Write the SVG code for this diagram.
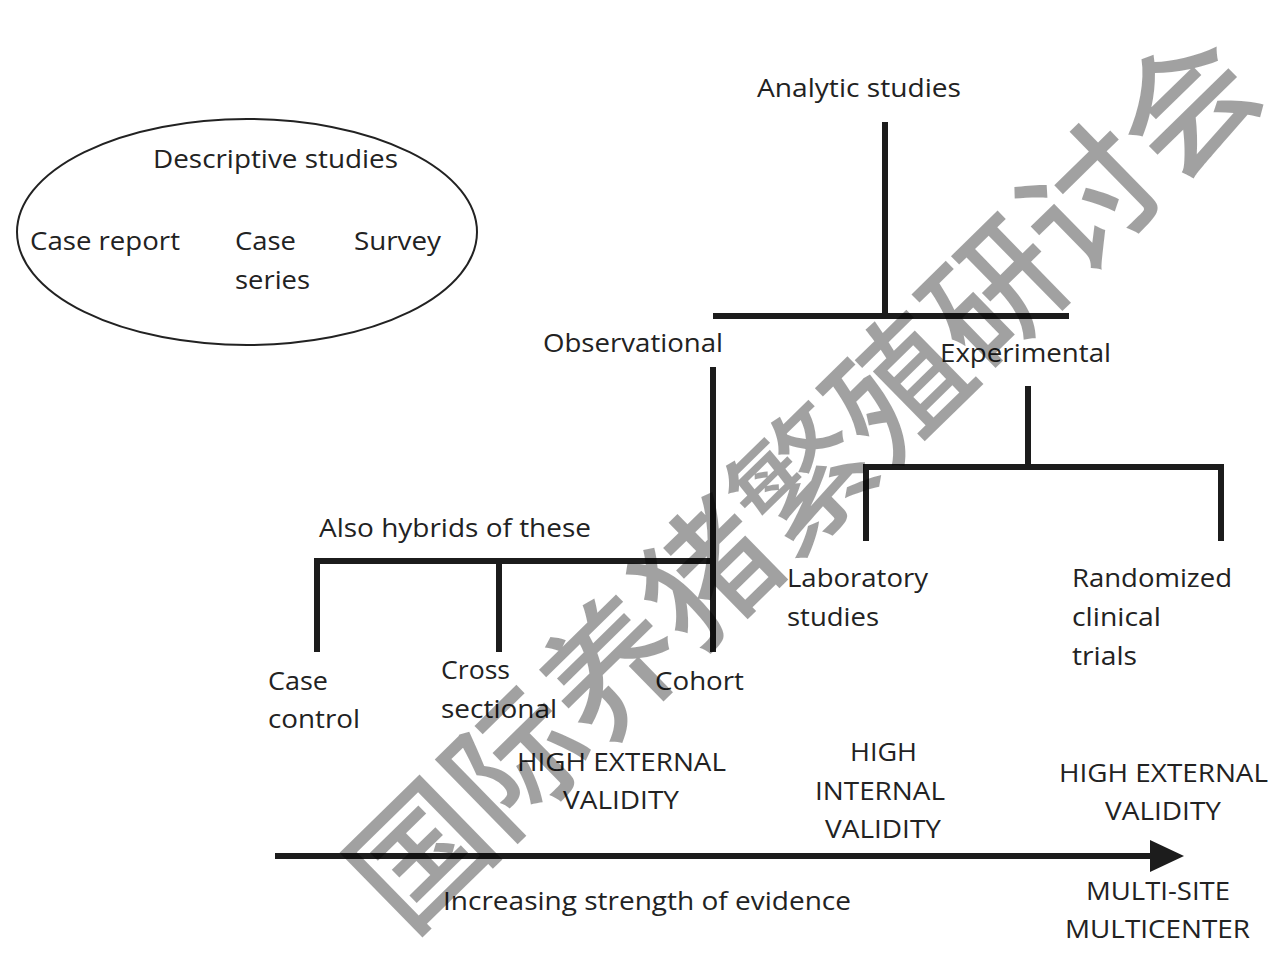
<svg xmlns="http://www.w3.org/2000/svg" width="1273" height="955" viewBox="0 0 1273 955">
<style>
  .t { font-family: "Open Sans", "Noto Sans", "Liberation Sans", sans-serif; font-size: 26px; fill: #222; }
  .ln { stroke: #1c1c1c; stroke-width: 6; fill: none; stroke-linecap: butt; }
  .wm { font-family: "Noto Sans CJK SC", "Noto Sans", sans-serif; font-size: 134px; font-weight: 500; fill: #000; fill-opacity: 0.37; }
</style>
<defs>
  <marker id="ah" markerUnits="userSpaceOnUse" markerWidth="36" markerHeight="34" refX="0" refY="17" orient="auto">
    <path d="M0,1 L34,17 L0,33 Z" fill="#1c1c1c"/>
  </marker>
</defs>
<rect width="1273" height="955" fill="#fff"/>

<g id="descriptive">
  <ellipse cx="247" cy="232" rx="230" ry="113" fill="none" stroke="#222" stroke-width="2"/>
  <text class="t" x="153" y="168" textLength="245" lengthAdjust="spacingAndGlyphs">Descriptive studies</text>
  <text class="t" x="30" y="250" textLength="150" lengthAdjust="spacingAndGlyphs">Case report</text>
  <text class="t" x="235" y="250" textLength="61" lengthAdjust="spacingAndGlyphs">Case</text>
  <text class="t" x="235" y="289" textLength="75" lengthAdjust="spacingAndGlyphs">series</text>
  <text class="t" x="354" y="250" textLength="87" lengthAdjust="spacingAndGlyphs">Survey</text>
</g>

<g id="connectors">
  <line class="ln" x1="885" y1="122" x2="885" y2="316" stroke-width="5"/>
  <line class="ln" x1="713" y1="316" x2="1069" y2="316"/>
  <line class="ln" x1="713" y1="367" x2="713" y2="652"/>
  <line class="ln" x1="314" y1="561" x2="713" y2="561"/>
  <line class="ln" x1="317" y1="558" x2="317" y2="652"/>
  <line class="ln" x1="499" y1="561" x2="499" y2="652"/>
  <line class="ln" x1="1028" y1="386" x2="1028" y2="466" stroke-width="5"/>
  <line class="ln" x1="863" y1="467" x2="1224" y2="467"/>
  <line class="ln" x1="866" y1="464" x2="866" y2="541"/>
  <line class="ln" x1="1221" y1="464" x2="1221" y2="541"/>
  <line class="ln" x1="275" y1="856" x2="1150" y2="856" stroke-width="11" marker-end="url(#ah)"/>
</g>

<g id="analytic"><text class="t" x="757" y="97" textLength="204" lengthAdjust="spacingAndGlyphs">Analytic studies</text></g>
<g id="observational"><text class="t" x="543" y="352" textLength="180" lengthAdjust="spacingAndGlyphs">Observational</text></g>
<g id="experimental"><text class="t" x="940" y="362" textLength="171" lengthAdjust="spacingAndGlyphs">Experimental</text></g>
<g id="hybrids"><text class="t" x="319" y="537" textLength="272" lengthAdjust="spacingAndGlyphs">Also hybrids of these</text></g>
<g id="case-control">
  <text class="t" x="268" y="690" textLength="60" lengthAdjust="spacingAndGlyphs">Case</text>
  <text class="t" x="268" y="728" textLength="92" lengthAdjust="spacingAndGlyphs">control</text>
</g>
<g id="cross-sectional">
  <text class="t" x="441" y="679" textLength="69" lengthAdjust="spacingAndGlyphs">Cross</text>
  <text class="t" x="441" y="718" textLength="116" lengthAdjust="spacingAndGlyphs">sectional</text>
</g>
<g id="cohort"><text class="t" x="655" y="690" textLength="89" lengthAdjust="spacingAndGlyphs">Cohort</text></g>
<g id="laboratory">
  <text class="t" x="787" y="587" textLength="141" lengthAdjust="spacingAndGlyphs">Laboratory</text>
  <text class="t" x="787" y="626" textLength="92" lengthAdjust="spacingAndGlyphs">studies</text>
</g>
<g id="rct">
  <text class="t" x="1072" y="587" textLength="160" lengthAdjust="spacingAndGlyphs">Randomized</text>
  <text class="t" x="1072" y="626" textLength="89" lengthAdjust="spacingAndGlyphs">clinical</text>
  <text class="t" x="1072" y="665" textLength="65" lengthAdjust="spacingAndGlyphs">trials</text>
</g>
<g id="validity-1">
  <text class="t" x="517" y="771" textLength="209" lengthAdjust="spacingAndGlyphs">HIGH EXTERNAL</text>
  <text class="t" x="563" y="809" textLength="116" lengthAdjust="spacingAndGlyphs">VALIDITY</text>
</g>
<g id="validity-2">
  <text class="t" x="850" y="761" textLength="67" lengthAdjust="spacingAndGlyphs">HIGH</text>
  <text class="t" x="815" y="800" textLength="130" lengthAdjust="spacingAndGlyphs">INTERNAL</text>
  <text class="t" x="825" y="838" textLength="116" lengthAdjust="spacingAndGlyphs">VALIDITY</text>
</g>
<g id="validity-3">
  <text class="t" x="1059" y="782" textLength="209" lengthAdjust="spacingAndGlyphs">HIGH EXTERNAL</text>
  <text class="t" x="1105" y="820" textLength="116" lengthAdjust="spacingAndGlyphs">VALIDITY</text>
</g>
<g id="evidence"><text class="t" x="443" y="910" textLength="408" lengthAdjust="spacingAndGlyphs">Increasing strength of evidence</text></g>
<g id="multisite">
  <text class="t" x="1086" y="900" textLength="144" lengthAdjust="spacingAndGlyphs">MULTI-SITE</text>
  <text class="t" x="1065" y="938" textLength="185" lengthAdjust="spacingAndGlyphs">MULTICENTER</text>
</g>

<g id="watermark">
  <text class="wm" transform="translate(797,474) rotate(-44.4)" text-anchor="middle" dominant-baseline="central">国际养猪繁殖研讨会</text>
</g>
</svg>
